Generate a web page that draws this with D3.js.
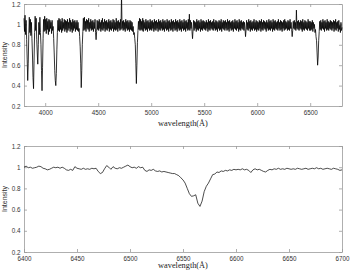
<!DOCTYPE html>
<html><head><meta charset="utf-8">
<script src="https://cdn.jsdelivr.net/npm/d3@7"></script>
<style>body{margin:0;background:#fff}svg{display:block}</style>
</head><body><svg id="c" width="350" height="273"></svg>
<script>
// Top panel: full spectrum, sampled every 5 Å from 3800 Å (one row = 100 Å)
const topStart = 3800, topStep = 5;
const topFlux = [
  1.06,0.93,1.09,0.90,1.04,0.85,0.66,0.45,0.62,0.90,1.07,0.92,1.05,0.89,1.02,0.86,0.70,0.48,0.37,0.65,
  0.92,1.08,0.94,1.06,0.85,0.72,0.61,0.80,1.02,0.90,1.07,0.92,0.80,0.55,0.35,0.58,0.86,1.05,0.93,1.08,
  0.94,1.05,0.91,1.06,0.95,1.03,0.90,1.05,0.93,1.04,0.96,1.02,0.91,1.04,0.94,0.98,0.86,0.72,0.55,0.45,
  0.40,0.52,0.75,0.92,1.04,0.94,1.06,0.93,1.05,0.95,1.03,0.92,1.06,0.94,1.02,0.96,1.05,0.93,1.04,0.95,
  1.03,0.92,1.05,0.94,1.02,0.96,1.06,0.93,1.04,0.95,1.02,0.92,1.05,0.94,1.03,0.96,1.04,0.93,1.02,0.95,
  1.04,0.94,1.02,0.93,0.96,0.88,0.78,0.62,0.38,0.55,0.80,0.93,1.06,0.94,1.07,0.95,1.03,0.93,1.05,0.96,
  1.04,0.95,1.06,0.93,1.02,0.96,1.05,0.94,1.03,0.95,1.04,0.93,1.02,0.96,1.05,0.92,0.85,0.93,1.04,0.95,
  1.03,0.94,1.05,0.96,1.02,0.93,1.04,0.95,1.06,0.94,1.02,0.96,1.05,0.93,1.03,0.95,1.04,0.94,1.02,0.96,
  1.05,0.93,1.03,0.95,1.04,0.94,1.02,0.96,1.05,0.93,1.04,0.95,1.02,0.94,1.06,0.95,1.03,0.93,1.04,0.96,
  1.02,0.94,1.05,0.95,1.30,0.96,1.03,0.94,1.04,0.95,1.02,0.93,1.05,0.96,1.03,0.94,1.04,0.95,1.02,0.93,
  1.04,0.95,1.03,0.94,1.02,0.93,0.98,0.90,0.92,0.86,0.80,0.62,0.42,0.60,0.82,0.94,1.03,0.95,1.06,0.94,
  1.05,0.95,1.03,0.94,1.06,0.93,1.04,0.96,1.02,0.94,1.05,0.95,1.03,0.93,1.04,0.96,1.02,0.94,1.05,0.95,
  1.03,0.94,1.04,0.96,1.02,0.93,1.05,0.95,1.03,0.94,1.04,0.96,1.02,0.93,1.05,0.95,1.03,0.94,1.04,0.96,
  1.02,0.94,1.05,0.95,1.03,0.93,1.04,0.96,1.02,0.94,1.05,0.95,1.03,0.93,1.04,0.96,1.02,0.94,1.05,0.95,
  1.03,0.93,1.04,0.96,1.02,0.94,1.05,0.95,1.03,0.93,1.04,0.96,1.02,0.94,1.05,0.95,1.03,0.93,1.04,0.96,
  1.02,0.94,1.05,0.95,1.03,0.93,1.04,0.96,1.02,0.94,1.05,0.95,1.10,0.94,1.04,0.96,1.02,0.93,0.86,0.95,
  1.04,0.94,1.03,0.96,1.02,0.93,1.05,0.95,1.03,0.94,1.04,0.96,1.02,0.93,1.05,0.95,1.03,0.94,1.04,0.96,
  1.03,0.95,1.02,0.94,1.04,0.96,1.02,0.93,1.05,0.95,1.03,0.94,1.04,0.96,1.02,0.95,1.03,0.94,1.05,0.96,
  1.02,0.94,1.04,0.95,1.03,0.93,1.02,0.96,1.04,0.94,1.03,0.95,1.05,0.93,1.02,0.96,1.04,0.95,1.03,0.94,
  1.04,0.96,1.02,0.94,1.05,0.95,1.03,0.93,1.04,0.96,1.02,0.94,1.03,0.95,1.04,0.93,1.02,0.96,1.05,0.95,
  1.03,0.94,1.04,0.96,1.02,0.93,1.05,0.95,1.03,0.94,1.04,0.96,1.02,0.95,1.03,0.94,1.02,0.96,0.88,0.95,
  1.04,0.95,1.02,0.94,1.05,0.96,1.03,0.93,1.04,0.95,1.02,0.94,1.03,0.96,1.05,0.94,1.02,0.95,1.04,0.93,
  1.03,0.95,1.02,0.94,1.04,0.96,1.03,0.93,1.05,0.95,1.02,0.94,1.04,0.96,1.03,0.95,1.02,0.93,1.04,0.96,
  1.02,0.94,1.05,0.95,1.03,0.94,1.04,0.96,1.02,0.93,1.05,0.95,1.03,0.94,1.04,0.96,1.02,0.95,1.03,0.94,
  1.05,0.96,1.02,0.94,1.04,0.95,1.03,0.93,1.02,0.96,1.04,0.94,1.05,0.95,1.03,0.96,1.02,0.94,1.04,0.95,
  1.03,0.94,1.05,0.96,1.02,0.95,0.88,0.94,1.03,0.96,1.04,0.95,1.02,0.94,1.14,0.96,1.03,0.95,1.04,0.94,
  1.02,0.96,1.04,0.95,1.03,0.93,1.05,0.95,1.02,0.94,1.04,0.96,1.03,0.95,1.02,0.94,1.05,0.96,1.03,0.94,
  1.03,0.94,1.02,0.95,1.04,0.93,1.02,0.96,1.00,0.92,0.95,0.88,0.84,0.72,0.60,0.68,0.84,0.93,1.03,0.95,
  1.04,0.94,1.02,0.96,1.05,0.95,1.03,0.93,1.04,0.96,1.02,0.94,1.05,0.95,1.03,0.94,1.02,0.96,1.04,0.95,
  1.03,0.94,1.02,0.96,1.04,0.93,1.03,0.95,1.05,0.94,1.02,0.96,1.03,0.93,1.04,0.95,0.99,0.92,1.02,0.94,
  0.97
];
// Bottom panel: H-alpha region, sampled every 2 Å from 6400 Å
const botStart = 6400, botStep = 2;
const botFlux = [
  1.00,1.01,0.995,1.00,0.99,0.995,1.00,1.01,1.005,0.99,
  0.985,0.975,0.98,0.99,1.00,0.995,1.00,0.99,1.00,0.99,
  0.975,0.97,0.98,0.97,1.005,0.99,0.985,0.98,0.99,0.98,
  0.985,0.98,0.99,0.985,0.99,0.96,0.94,0.95,0.985,1.015,
  1.00,0.98,1.005,0.99,0.985,0.995,0.99,1.00,1.01,1.02,
  1.005,0.995,1.00,0.99,1.005,0.995,1.00,0.97,0.96,0.975,
  0.97,0.98,0.965,0.96,0.965,0.955,0.96,0.955,0.95,0.945,
  0.94,0.94,0.93,0.92,0.90,0.88,0.85,0.80,0.75,0.725,
  0.73,0.74,0.66,0.63,0.68,0.77,0.82,0.85,0.89,0.93,
  0.935,0.955,0.95,0.965,0.96,0.97,0.965,0.975,0.97,0.98,
  0.975,0.98,0.975,0.985,0.975,0.98,0.97,0.95,0.975,0.985,
  0.975,0.98,0.97,0.96,0.955,0.97,0.98,0.975,0.985,0.98,
  0.99,0.98,0.985,0.98,0.99,0.985,0.98,0.985,0.98,0.99,
  0.985,0.98,0.985,0.99,0.98,0.985,0.99,0.985,0.995,0.985,
  0.99,0.98,0.985,0.99,0.985,0.98,0.99,0.985,0.98,0.97,
  0.975
];
const topXDomain = [3800, 6800];
const botXDomain = [6400, 6700];
const yDomain = [0.2, 1.2];
const topXTicks = [4000, 4500, 5000, 5500, 6000, 6500];
const botXTicks = [6400, 6450, 6500, 6550, 6600, 6650, 6700];
const yTicks = [0.2, 0.4, 0.6, 0.8, 1, 1.2];
const xLabel = "wavelength(Å)";
const yLabel = "Intensity";

const svg = d3.select("#c");
const L = 24, R = 342;
const sans = "'Liberation Sans', Arial, sans-serif";
const serif = "'Liberation Serif', 'Times New Roman', serif";
const axisColor = "#9a9a9a";

function panel(start, step, flux, xDomain, xTicks, top, bottom, labelOffset, lineWidth) {
  const x = d3.scaleLinear().domain(xDomain).range([L, R]);
  const y = d3.scaleLinear().domain(yDomain).range([bottom, top]);
  const g = svg.append("g");
  const fmt = d => String(+d.toFixed(1));

  const styleAxis = (sel, labels) => {
    sel.selectAll("path.domain").attr("stroke", axisColor).attr("stroke-width", 0.8);
    sel.selectAll(".tick line").attr("stroke", axisColor).attr("stroke-width", 0.8);
    sel.selectAll(".tick text").attr("fill", "#333").attr("font-family", sans).attr("font-size", 6.3);
    if (!labels) sel.selectAll(".tick text").remove();
  };

  const ax = g.append("g").attr("transform", `translate(0,${bottom})`)
    .call(d3.axisBottom(x).tickValues(xTicks).tickSizeInner(-3).tickSizeOuter(0).tickPadding(5).tickFormat(d3.format("d")));
  styleAxis(ax, true);
  const axT = g.append("g").attr("transform", `translate(0,${top})`)
    .call(d3.axisTop(x).tickValues(xTicks).tickSizeInner(-3).tickSizeOuter(0));
  styleAxis(axT, false);
  const ay = g.append("g").attr("transform", `translate(${L},0)`)
    .call(d3.axisLeft(y).tickValues(yTicks).tickSizeInner(-3).tickSizeOuter(0).tickPadding(3.5).tickFormat(fmt));
  styleAxis(ay, true);
  const ayR = g.append("g").attr("transform", `translate(${R},0)`)
    .call(d3.axisRight(y).tickValues(yTicks).tickSizeInner(-3).tickSizeOuter(0));
  styleAxis(ayR, false);

  const line = d3.line().x((d, i) => x(start + i * step)).y(d => y(d));
  g.append("path").datum(flux).attr("d", line)
    .attr("fill", "none").attr("stroke", "#000").attr("stroke-width", lineWidth)
    .attr("stroke-linejoin", "round");

  g.append("text").attr("x", (L + R) / 2).attr("y", bottom + labelOffset)
    .attr("text-anchor", "middle").attr("font-family", serif).attr("font-size", 8.3)
    .attr("fill", "#222").text(xLabel);
  g.append("text").attr("transform", `translate(7,${(top + bottom) / 2}) rotate(-90)`)
    .attr("text-anchor", "middle").attr("font-family", sans).attr("font-size", 7)
    .attr("fill", "#333").text(yLabel);
}

panel(topStart, topStep, topFlux, topXDomain, topXTicks, 4, 106, 20, 0.8);
panel(botStart, botStep, botFlux, botXDomain, botXTicks, 146, 252, 16, 0.7);
</script></body></html>
